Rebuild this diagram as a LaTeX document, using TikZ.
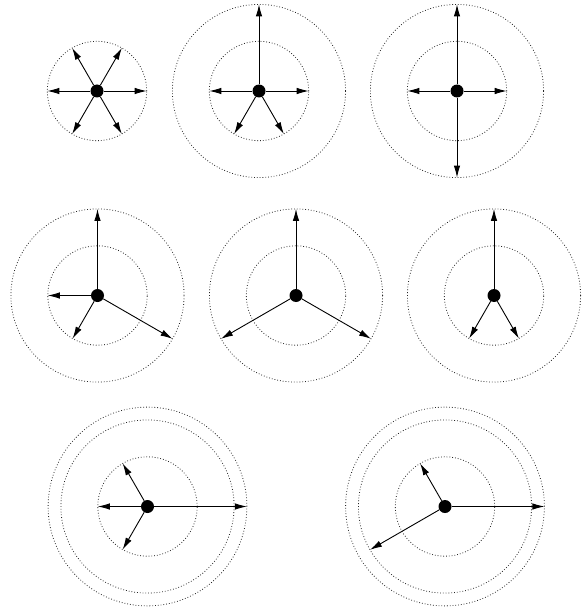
\documentclass[tikz,border=0pt]{standalone}
\usetikzlibrary{arrows.meta}
\begin{document}
\begin{tikzpicture}[x=1pt,y=-1pt,
  dot/.style={circle,fill=black,inner sep=0pt,minimum size=13pt},
  ring/.style={draw=black!85,dotted,line width=0.8pt},
  vec/.style={-{Latex[length=12pt,width=6.5pt]},line width=0.9pt}]
\useasboundingbox (0,0) rectangle (587,607);
\def\ra{49.7pt}
\def\rb{86.6pt}
\def\rc{99.4pt}
% centres
\coordinate (p1) at (97,91);
\coordinate (p2) at (259,91);
\coordinate (p3) at (457,91);
\coordinate (p4) at (97.5,295.5);
\coordinate (p5) at (296,295.5);
\coordinate (p6) at (494,295.5);
\coordinate (p7) at (147.5,506.5);
\coordinate (p8) at (445,506.5);
% rings
\draw[ring] (p1) circle[radius=\ra];
\foreach \p in {p2,p3,p4,p5,p6,p7,p8}{
  \draw[ring] (\p) circle[radius=\ra];
  \draw[ring] (\p) circle[radius=\rb];
}
\foreach \p in {p7,p8}{\draw[ring] (\p) circle[radius=\rc];}
% end points
\foreach \a in {0,60,120,180,240,300}{\path (p1) ++(\a:\ra) coordinate (e1-\a);}
\path (p2) ++(0:\ra) coordinate (e2-0) (p2) ++(180:\ra) coordinate (e2-180)
      (p2) ++(90:\rb) coordinate (e2-90) (p2) ++(240:\ra) coordinate (e2-240)
      (p2) ++(300:\ra) coordinate (e2-300);
\path (p3) ++(0:\ra) coordinate (e3-0) (p3) ++(180:\ra) coordinate (e3-180)
      (p3) ++(90:\rb) coordinate (e3-90) (p3) ++(270:\rb) coordinate (e3-270);
\path (p4) ++(90:\rb) coordinate (e4-90) (p4) ++(180:\ra) coordinate (e4-180)
      (p4) ++(240:\ra) coordinate (e4-240) (p4) ++(330:\rb) coordinate (e4-330);
\path (p5) ++(90:\rb) coordinate (e5-90) (p5) ++(210:\rb) coordinate (e5-210)
      (p5) ++(330:\rb) coordinate (e5-330);
\path (p6) ++(90:\rb) coordinate (e6-90) (p6) ++(240:\ra) coordinate (e6-240)
      (p6) ++(300:\ra) coordinate (e6-300);
\path (p7) ++(0:\rc) coordinate (e7-0) (p7) ++(180:\ra) coordinate (e7-180)
      (p7) ++(120:\ra) coordinate (e7-120) (p7) ++(240:\ra) coordinate (e7-240);
\path (p8) ++(0:\rc) coordinate (e8-0) (p8) ++(120:\ra) coordinate (e8-120)
      (p8) ++(210:\rb) coordinate (e8-210);
% dots
\foreach \i in {1,...,8}{\node[dot] (n\i) at (p\i) {};}
% arrows
\foreach \a in {0,60,120,180,240,300}{\draw[vec] (n1) -- (e1-\a);}
\foreach \a in {0,90,180,240,300}{\draw[vec] (n2) -- (e2-\a);}
\foreach \a in {0,90,180,270}{\draw[vec] (n3) -- (e3-\a);}
\foreach \a in {90,180,240,330}{\draw[vec] (n4) -- (e4-\a);}
\foreach \a in {90,210,330}{\draw[vec] (n5) -- (e5-\a);}
\foreach \a in {90,240,300}{\draw[vec] (n6) -- (e6-\a);}
\foreach \a in {0,120,180,240}{\draw[vec] (n7) -- (e7-\a);}
\foreach \a in {0,120,210}{\draw[vec] (n8) -- (e8-\a);}
\end{tikzpicture}
\end{document}
